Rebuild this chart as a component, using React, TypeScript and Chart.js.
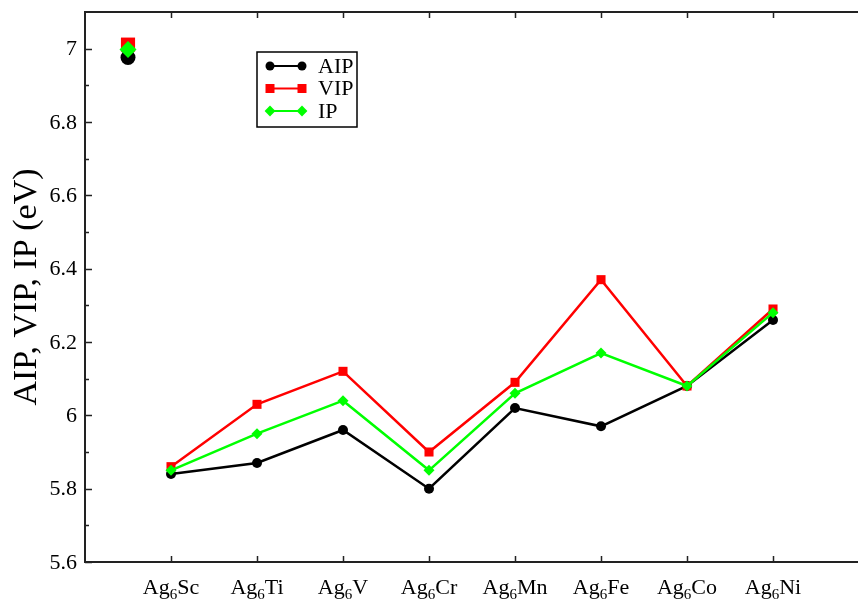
import React, { useEffect, useRef } from "react";
import { Chart, registerables } from "chart.js";

Chart.register(...registerables);

const categories = ["Sc", "Ti", "V", "Cr", "Mn", "Fe", "Co", "Ni"];
const aip = [5.84, 5.87, 5.96, 5.8, 6.02, 5.97, 6.08, 6.26];
const vip = [5.86, 6.03, 6.12, 5.9, 6.09, 6.37, 6.08, 6.29];
const ip = [5.85, 5.95, 6.04, 5.85, 6.06, 6.17, 6.08, 6.28];
// stray large markers near the top-left
const extraX = 0.5;
const extraAip = 6.976;
const extraVip = 7.011;
const extraIp = 6.998;
const yTicks = [5.6, 5.8, 6.0, 6.2, 6.4, 6.6, 6.8, 7.0];
const yMinorTicks = [5.7, 5.9, 6.1, 6.3, 6.5, 6.7, 6.9];
const yTitle = "AIP, VIP, IP (eV)";

const SERIF = '"Liberation Serif", "DejaVu Serif", serif';

const seriesDefs = [
  { label: "AIP", data: aip, color: "#000000", style: "circle", radius: 5, order: 3 },
  { label: "VIP", data: vip, color: "#ff0000", style: "rect", radius: 6.4, order: 2 },
  { label: "IP", data: ip, color: "#00ff00", style: "rectRot", radius: 5.5, order: 1 },
];

function drawMarker(ctx: CanvasRenderingContext2D, style: string, x: number, y: number, r: number, color: string) {
  ctx.save();
  ctx.fillStyle = color;
  ctx.beginPath();
  if (style === "circle") {
    ctx.arc(x, y, r, 0, Math.PI * 2);
  } else if (style === "rect") {
    ctx.rect(x - r, y - r, 2 * r, 2 * r);
  } else {
    ctx.moveTo(x, y - r * 1.2);
    ctx.lineTo(x + r * 1.2, y);
    ctx.lineTo(x, y + r * 1.2);
    ctx.lineTo(x - r * 1.2, y);
    ctx.closePath();
  }
  ctx.fill();
  ctx.restore();
}

const framePlugin = {
  id: "framePlugin",
  afterDatasetsDraw(chart: any) {
    const ctx: CanvasRenderingContext2D = chart.ctx;
    const { left, right, top, bottom } = chart.chartArea;
    const xs = chart.scales.x;
    const ys = chart.scales.y;
    ctx.save();
    ctx.strokeStyle = "#222";
    ctx.lineWidth = 2;
    ctx.beginPath();
    ctx.moveTo(left, top);
    ctx.lineTo(left, bottom);
    ctx.moveTo(left - 1, bottom);
    ctx.lineTo(right + 5, bottom);
    ctx.moveTo(left - 1, top);
    ctx.lineTo(right + 5, top);
    ctx.stroke();
    ctx.lineWidth = 1.5;
    ctx.beginPath();
    categories.forEach((_, i) => {
      const px = Math.round(xs.getPixelForValue(i + 1)) + 0.5;
      ctx.moveTo(px, bottom);
      ctx.lineTo(px, bottom - 6);
      ctx.moveTo(px, top);
      ctx.lineTo(px, top + 6);
    });
    yTicks.forEach((v) => {
      const py = Math.round(ys.getPixelForValue(v)) + 0.5;
      ctx.moveTo(left, py);
      ctx.lineTo(left + 7, py);
    });
    yMinorTicks.forEach((v) => {
      const py = Math.round(ys.getPixelForValue(v)) + 0.5;
      ctx.moveTo(left, py);
      ctx.lineTo(left + 4, py);
    });
    ctx.stroke();

    // y tick labels
    ctx.fillStyle = "#000";
    ctx.font = `22px ${SERIF}`;
    ctx.textAlign = "right";
    ctx.textBaseline = "middle";
    yTicks.forEach((v) => {
      const py = ys.getPixelForValue(v);
      ctx.fillText(String(+v.toFixed(1)), left - 8, py + 1);
    });

    // x labels with subscript
    ctx.textBaseline = "alphabetic";
    categories.forEach((c, i) => {
      const px = xs.getPixelForValue(i + 1);
      const big = `22px ${SERIF}`;
      const small = `15px ${SERIF}`;
      ctx.font = big;
      const w1 = ctx.measureText("Ag").width;
      const w3 = ctx.measureText(c).width;
      ctx.font = small;
      const w2 = ctx.measureText("6").width;
      let x = px - (w1 + w2 + w3) / 2;
      const base = bottom + 32;
      ctx.textAlign = "left";
      ctx.font = big;
      ctx.fillText("Ag", x, base);
      x += w1;
      ctx.font = small;
      ctx.fillText("6", x, base + 5);
      x += w2;
      ctx.font = big;
      ctx.fillText(c, x, base);
    });

    // y title
    ctx.save();
    ctx.translate(36, (top + bottom) / 2);
    ctx.rotate(-Math.PI / 2);
    ctx.font = `34px ${SERIF}`;
    ctx.textAlign = "center";
    ctx.textBaseline = "alphabetic";
    ctx.fillText(yTitle, 0, 0);
    ctx.restore();

    // legend
    const lx = 257, ly = 52, lw = 100, lh = 75;
    ctx.fillStyle = "#fff";
    ctx.fillRect(lx, ly, lw, lh);
    ctx.strokeStyle = "#000";
    ctx.lineWidth = 1.5;
    ctx.strokeRect(lx, ly, lw, lh);
    seriesDefs.forEach((s, i) => {
      const yy = 66 + i * 22.5;
      ctx.strokeStyle = s.color;
      ctx.lineWidth = 2;
      ctx.beginPath();
      ctx.moveTo(270, yy);
      ctx.lineTo(302, yy);
      ctx.stroke();
      drawMarker(ctx, s.style, 270, yy, 4.5, s.color);
      drawMarker(ctx, s.style, 302, yy, 4.5, s.color);
      ctx.fillStyle = "#000";
      ctx.font = `22px ${SERIF}`;
      ctx.textAlign = "left";
      ctx.textBaseline = "middle";
      ctx.fillText(s.label, 318, yy + 1);
    });
    ctx.restore();
  },
};

export default function App() {
  const ref = useRef<HTMLCanvasElement | null>(null);
  useEffect(() => {
    if (!ref.current) return;
    const datasets: any[] = seriesDefs.map((s) => ({
      label: s.label,
      data: s.data.map((v, i) => ({ x: i + 1, y: v })),
      borderColor: s.color,
      backgroundColor: s.color,
      pointBackgroundColor: s.color,
      pointBorderColor: s.color,
      pointStyle: s.style,
      pointRadius: s.radius,
      borderWidth: 2.5,
      pointBorderWidth: 0,
      showLine: true,
      order: s.order,
    }));
    datasets.push({
      label: "extra",
      data: [
        { x: extraX, y: extraVip },
        { x: extraX, y: extraAip },
        { x: extraX, y: extraIp },
      ],
      pointStyle: ["rect", "circle", "rectRot"],
      pointRadius: [10, 7.5, 8.5],
      pointBackgroundColor: ["#ff0000", "#000000", "#00ff00"],
      pointBorderColor: ["#ff0000", "#000000", "#00ff00"],
      pointBorderWidth: 0,
      showLine: false,
      order: 0,
    });
    const chart = new Chart(ref.current, {
      type: "scatter",
      data: { datasets },
      options: {
        animation: false,
        responsive: false,
        layout: { padding: { top: 12, bottom: 39, left: 85, right: 0 } },
        plugins: { legend: { display: false }, tooltip: { enabled: false } },
        scales: {
          x: { type: "linear", min: 0, max: 8.93, display: false },
          y: { type: "linear", min: 5.6, max: 7.1, display: false },
        },
      },
      plugins: [framePlugin],
    });
    return () => chart.destroy();
  }, []);
  return (
    <div style={{ position: "fixed", left: 0, top: 0, width: 863, height: 601, background: "#fff" }}>
      <canvas ref={ref} width={863} height={601} style={{ display: "block" }} />
    </div>
  );
}
